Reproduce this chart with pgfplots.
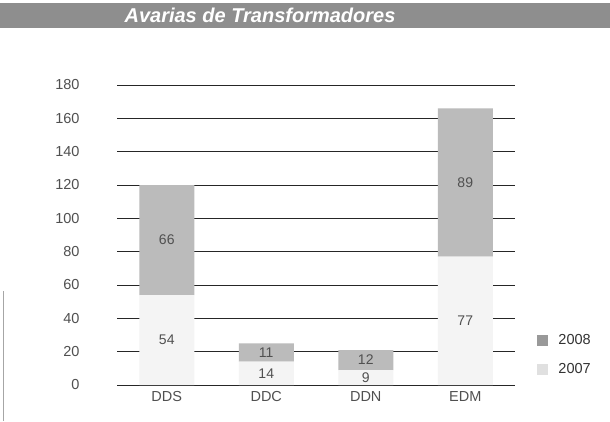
\documentclass[border=0pt]{standalone}
\usepackage{pgfplots}
\pgfplotsset{compat=1.18}
\usepackage{fontspec}
\setmainfont{Liberation Sans}
\definecolor{titlegray}{HTML}{8E8E8E}
\definecolor{bar08}{HTML}{BBBBBB}
\definecolor{bar07}{HTML}{F4F4F4}
\definecolor{txtgray}{HTML}{505050}
\pgfplotsset{common/.style={
  at={(117pt,36pt)}, anchor=south west, scale only axis,
  width=398pt, height=300pt,
  xmin=-0.5, xmax=3.5, ymin=0, ymax=180}}
\begin{document}
\begin{tikzpicture}[x=1pt,y=1pt]
\path[use as bounding box, fill=white] (0,0) rectangle (610,421);
\fill[titlegray] (0,393) rectangle (610,418);
\node[text=white, font=\fontsize{20}{24}\selectfont\bfseries\itshape] at (260,405.5) {Avarias de Transformadores};
\draw[black!35, line width=0.6pt] (3,0) -- (3,130);
\begin{axis}[
  common,
  ybar stacked, bar width=55pt,
  xtick={0,1,2,3}, xticklabels={DDS,DDC,DDN,EDM},
  ytick={0,20,...,180},
  ymajorgrids, grid style={black!85, line width=0.8pt},
  axis line style={draw=none}, major tick length=0pt,
  tick label style={font=\fontsize{14.5}{16}\selectfont, text=txtgray},
  yticklabel style={xshift=-34pt},
  xticklabel style={yshift=-3pt},
  /pgf/number format/assume math mode=true,
  legend style={at={(1.055,0.175)}, anchor=north west, draw=none, fill=none,
    font=\fontsize{14.5}{16}\selectfont, text=black!80,
    row sep=13pt, inner sep=0pt},
  legend cell align=left,
]
\addplot[fill=bar07, draw=none, forget plot] coordinates {(0,54) (1,14) (2,9) (3,77)};
\addplot[fill=bar08, draw=none, forget plot] coordinates {(0,66) (1,11) (2,12) (3,89)};
\addlegendimage{legend image code/.code={\fill[black!40] (0pt,-5pt) rectangle (10pt,5pt);}}
\addlegendentry{\hspace{9pt}2008}
\addlegendimage{legend image code/.code={\fill[black!12] (0pt,-5pt) rectangle (10pt,5pt);}}
\addlegendentry{\hspace{9pt}2007}
\end{axis}
\begin{axis}[common, hide axis]
\addplot[draw=none, mark=none, nodes near coords, point meta=explicit symbolic,
  every node near coord/.append style={anchor=center, font=\fontsize{14}{16}\selectfont, text=txtgray}]
  table[meta=lab] {
x y lab
0 27 54
0 87 66
1 7 14
1 19.5 11
2 4.5 9
2 15 12
3 38.5 77
3 121.5 89
};
\end{axis}
\end{tikzpicture}
\end{document}
